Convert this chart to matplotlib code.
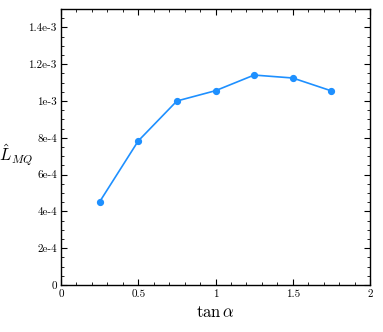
import matplotlib
matplotlib.use("Agg")
import matplotlib.pyplot as plt
from matplotlib.ticker import MultipleLocator

plt.rcParams['font.family'] = 'cmr10'
plt.rcParams['mathtext.fontset'] = 'cm'
plt.rcParams['axes.unicode_minus'] = False

tan_alpha = [0.25, 0.5, 0.75, 1.0, 1.25, 1.5, 1.75]
L_MQ = [4.52e-4, 7.83e-4, 1.0e-3, 1.056e-3, 1.141e-3, 1.125e-3, 1.055e-3]

x_ticks = [0, 0.5, 1, 1.5, 2]
x_tick_labels = ['0', '0.5', '1', '1.5', '2']
y_ticks = [0, 2e-4, 4e-4, 6e-4, 8e-4, 1e-3, 1.2e-3, 1.4e-3]
y_tick_labels = ['0', '2e-4', '4e-4', '6e-4', '8e-4', '1e-3', '1.2e-3', '1.4e-3']

fig = plt.figure(figsize=(3.83, 3.32), dpi=100)
ax = fig.add_axes([61/383, 47/332, 309/383, 276/332])
ax.plot(tan_alpha, L_MQ, color='#1E90FF', lw=1.2, marker='o', ms=4.2)
ax.set_xlim(0, 2)
ax.set_ylim(0, 1.5e-3)
ax.set_xticks(x_ticks)
ax.set_xticklabels(x_tick_labels)
ax.set_yticks(y_ticks)
ax.set_yticklabels(y_tick_labels)
ax.xaxis.set_minor_locator(MultipleLocator(0.1))
ax.yaxis.set_minor_locator(MultipleLocator(5e-5))
ax.tick_params(which='both', direction='in', top=True, right=True, labelsize=8, pad=3)
ax.tick_params(which='major', length=4, width=0.8)
ax.tick_params(which='minor', length=2, width=0.6)
for s in ax.spines.values():
    s.set_linewidth(1.0)
ax.set_xlabel(r'$\tan\alpha$', fontsize=12, labelpad=4)
ax.set_ylabel(r'$\hat{L}_{MQ}$', fontsize=12, rotation=0, ha='center', va='center')
ax.yaxis.set_label_coords(-0.145, 0.47)
fig.savefig('out.png', dpi=100)
